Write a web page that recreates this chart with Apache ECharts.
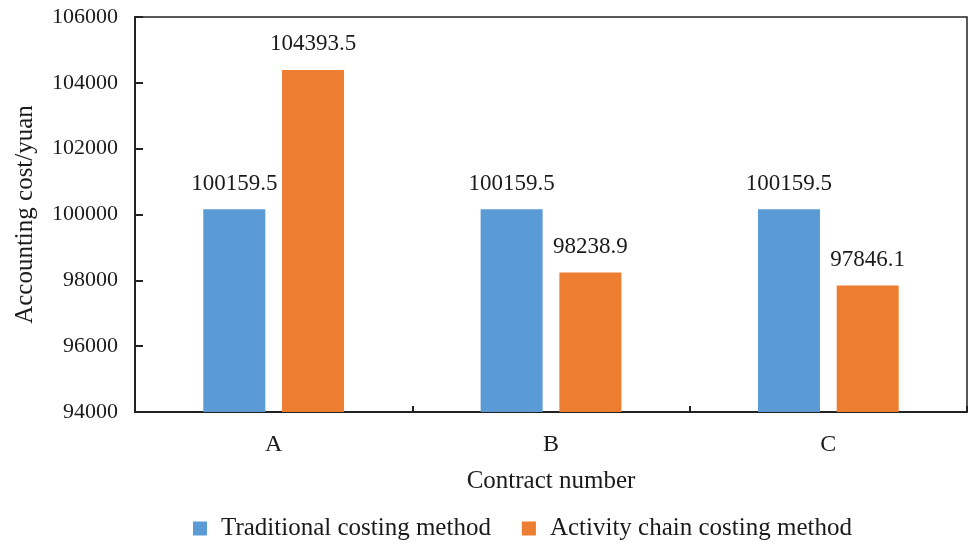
<!DOCTYPE html>
<html>
<head>
<meta charset="utf-8">
<script src="https://cdn.jsdelivr.net/npm/echarts@6/dist/echarts.min.js"></script>
<style>html,body{margin:0;padding:0;background:#fff}#c{width:968px;height:544px}</style>
</head>
<body>
<div id="c"></div>
<script>
var categories = ['A', 'B', 'C'];
var traditional = [100159.5, 100159.5, 100159.5];
var activityChain = [104393.5, 98238.9, 97846.1];
var seriesNames = ['Traditional costing method', 'Activity chain costing method'];
var yMin = 94000, yMax = 106000, yStep = 2000;

var font = '"Liberation Serif", "Times New Roman", serif';
var txt = '#1a1a1a';
var chart = echarts.init(document.getElementById('c'));
chart.setOption({
  animation: false,
  textStyle: { fontFamily: font },
  grid: { left: 135, right: 1, top: 17, bottom: 132, show: true, borderColor: '#222', borderWidth: 1.5, containLabel: false },
  legend: {
    left: 188, top: 511, itemWidth: 14, itemHeight: 14, itemGap: 31,
    icon: 'rect',
    textStyle: { fontFamily: font, fontSize: 25, color: txt, padding: [0, 0, 0, 9] },
    data: seriesNames
  },
  xAxis: {
    type: 'category', data: categories,
    name: 'Contract number', nameLocation: 'middle', nameGap: 57,
    nameTextStyle: { fontFamily: font, fontSize: 25, color: txt },
    axisLine: { show: true, lineStyle: { color: '#222', width: 2 } },
    axisTick: { show: true, inside: true, length: 6, lineStyle: { color: '#222', width: 2 } },
    axisLabel: { fontFamily: font, fontSize: 24, color: txt, margin: 21 }
  },
  yAxis: {
    type: 'value', min: yMin, max: yMax, interval: yStep,
    name: 'Accounting cost/yuan', nameLocation: 'middle', nameGap: 97,
    nameTextStyle: { fontFamily: font, fontSize: 25, color: txt },
    splitLine: { show: false },
    axisLine: { show: true, lineStyle: { color: '#222', width: 2 } },
    axisTick: { show: true, inside: true, length: 8, lineStyle: { color: '#222', width: 2 } },
    axisLabel: { fontFamily: font, fontSize: 22, color: txt, margin: 17, formatter: function (v) { return String(v); } }
  },
  series: [
    {
      name: seriesNames[0], type: 'bar', data: traditional,
      barWidth: 62, barGap: '27%',
      itemStyle: { color: '#5B9BD5' },
      label: { show: true, position: 'top', distance: 14, fontFamily: font, fontSize: 23, color: txt }
    },
    {
      name: seriesNames[1], type: 'bar', data: activityChain,
      barWidth: 62, barGap: '27%',
      itemStyle: { color: '#ED7D31' },
      label: { show: true, position: 'top', distance: 14, fontFamily: font, fontSize: 23, color: txt }
    }
  ]
});
</script>
</body>
</html>
